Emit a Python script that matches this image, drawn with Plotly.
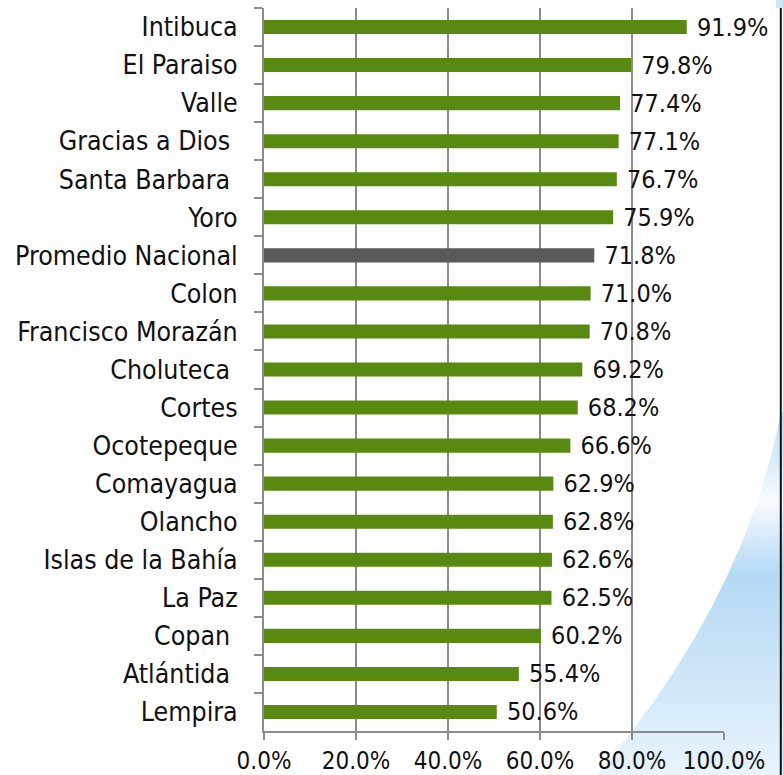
import base64
import plotly.graph_objects as go

departments = [
    "Intibuca", "El Paraiso", "Valle", "Gracias a Dios\u00a0", "Santa Barbara\u00a0",
    "Yoro", "Promedio Nacional", "Colon", "Francisco Morazán", "Choluteca\u00a0",
    "Cortes", "Ocotepeque", "Comayagua", "Olancho", "Islas de la Bahía",
    "La Paz", "Copan\u00a0", "Atlántida\u00a0", "Lempira",
]
values = [91.9, 79.8, 77.4, 77.1, 76.7, 75.9, 71.8, 71.0, 70.8, 69.2,
          68.2, 66.6, 62.9, 62.8, 62.6, 62.5, 60.2, 55.4, 50.6]
x_ticks = [0, 20, 40, 60, 80, 100]

GREEN = "#588a12"
GRAY_BAR = "#5a5a5a"
colors = [GRAY_BAR if d.startswith("Promedio") else GREEN for d in departments]

W, H = 783, 775
ML, MR, MT, MB = 264, 59, 8, 44
PW, PH = W - ML - MR, H - MT - MB

FONT = "DejaVu Sans Condensed, DejaVu Sans, sans-serif"

svg = f"""<svg xmlns='http://www.w3.org/2000/svg' width='{W}' height='{H}' viewBox='0 0 {W} {H}' preserveAspectRatio='none'>
<defs><linearGradient id='g' gradientUnits='userSpaceOnUse' x1='0' y1='410' x2='0' y2='775'>
<stop offset='0' stop-color='#bfdff7'/>
<stop offset='0.12' stop-color='#d6ebfa'/>
<stop offset='0.25' stop-color='#f7fbfe'/>
<stop offset='0.45' stop-color='#b4d9f5'/>
<stop offset='0.62' stop-color='#c4e1f7'/>
<stop offset='1' stop-color='#e9f4fc'/>
</linearGradient></defs>
<path d='M 781 412 Q 745 600 597 775 L 783 775 L 783 412 Z' fill='url(#g)'/>
<rect x='776' y='0' width='7' height='8' fill='#cfe6f8'/>
<line x1='780.8' y1='8' x2='780.8' y2='775' stroke='#111' stroke-width='2'/>
</svg>"""
src = "data:image/svg+xml;base64," + base64.b64encode(svg.encode()).decode()

fig = go.Figure(go.Bar(
    x=values, y=departments, orientation="h",
    marker=dict(color=colors, line=dict(width=0)),
    text=[f"\u00a0{v:.1f}%" for v in values],
    textposition="outside", cliponaxis=False, constraintext="none",
    textfont=dict(family=FONT, size=25, color="#111"),
    width=0.37,
))

fig.update_layout(
    width=W, height=H,
    margin=dict(l=ML, r=MR, t=MT, b=MB, autoexpand=False),
    paper_bgcolor="white", plot_bgcolor="rgba(0,0,0,0)",
    showlegend=False,
    font=dict(family=FONT, size=24, color="#111"),
    images=[dict(source=src, xref="paper", yref="paper",
                 x=-ML / PW, y=1 + MT / PH, sizex=W / PW, sizey=H / PH,
                 xanchor="left", yanchor="top", sizing="stretch", layer="below")],
)
fig.update_xaxes(
    range=[0, 100], tickvals=x_ticks, ticktext=[f"{t:.1f}%" for t in x_ticks],
    showgrid=True, gridcolor="#8c8c8c", gridwidth=2,
    showline=True, linecolor="#8c8c8c", linewidth=2,
    ticks="outside", ticklen=7, tickwidth=2, tickcolor="#8c8c8c",
    zeroline=False, tickfont=dict(size=24), automargin=False,
)
fig.update_yaxes(
    autorange="reversed", tickson="boundaries",
    showline=True, linecolor="#8c8c8c", linewidth=2,
    ticks="outside", ticklen=8, tickwidth=2, tickcolor="#8c8c8c",
    showgrid=False, ticklabelstandoff=19, tickfont=dict(size=26.5),
    automargin=False,
)

fig.write_html("out.html", config={"displayModeBar": False},
               post_script="document.body.style.margin='0';")
